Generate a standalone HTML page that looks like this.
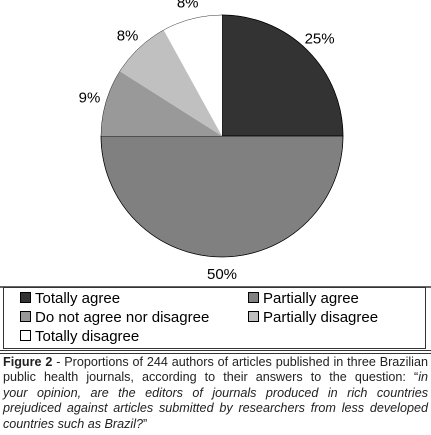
<!DOCTYPE html>
<html><head><meta charset="utf-8"><style>
body{margin:0;background:#fff;width:431px;height:435px;overflow:hidden;position:relative;font-family:"Liberation Sans",sans-serif}
.leg{position:absolute;font-size:15px;color:#000;white-space:nowrap}
.mk{display:inline-block;width:9px;height:9px;border:1px solid #000;margin-right:4px;vertical-align:0px}
.cap{position:absolute;left:3px;top:355px;width:425px;font-size:12.6px;line-height:15.4px;color:#222;font-family:"Liberation Sans",sans-serif}
.cap span{display:block;text-align:justify;text-align-last:justify;white-space:nowrap}
.cap span.last{text-align-last:left}
</style></head><body>
<svg width="431" height="290" style="position:absolute;left:0;top:0">
<g id="pie"></g>
<line x1="0" y1="287" x2="431" y2="287" stroke="#333" stroke-width="1.5"/>
</svg>
<div style="position:absolute;left:3px;top:287px;width:421px;height:60px;border:1px solid #333"></div>
<div class="leg" style="left:20px;top:290px"><span class="mk" style="background:#333"></span>Totally agree</div>
<div class="leg" style="left:248px;top:290px"><span class="mk" style="background:#808080"></span>Partially agree</div>
<div class="leg" style="left:20px;top:309px"><span class="mk" style="background:#999"></span>Do not agree nor disagree</div>
<div class="leg" style="left:248px;top:309px"><span class="mk" style="background:#c0c0c0"></span>Partially disagree</div>
<div class="leg" style="left:20px;top:328px"><span class="mk" style="background:#fff"></span>Totally disagree</div>
<div style="position:absolute;left:0;top:350px;width:431px;height:1px;background:#333"></div>
<div style="position:absolute;left:0;top:353px;width:431px;height:1px;background:#333"></div>
<div class="cap"><span><b>Figure 2</b> - Proportions of 244 authors of articles published in three Brazilian</span><span>public health journals, according to their answers to the question: “<i>in</i></span><span><i>your opinion, are the editors of journals produced in rich countries</i></span><span><i>prejudiced against articles submitted by researchers from less developed</i></span><span class="last"><i>countries such as Brazil?</i>”</span></div>
<script>
const categories=["Totally agree","Partially agree","Do not agree nor disagree","Partially disagree","Totally disagree"];
const values=[25,50,9,8,8];
const labels=["25%","50%","9%","8%","8%"];
const colors=["#333333","#808080","#999999","#c0c0c0","#ffffff"];
const cx=222,cy=136,r=121,ns="http://www.w3.org/2000/svg";
const g=document.getElementById('pie');
const total=values.reduce((a,b)=>a+b,0);
let a0=0;
values.forEach((v,i)=>{
  const a1=a0+v/total*Math.PI*2;
  const p=(a)=>[cx+r*Math.sin(a),cy-r*Math.cos(a)];
  const [x0,y0]=p(a0),[x1,y1]=p(a1);
  const path=document.createElementNS(ns,'path');
  path.setAttribute('d',`M${cx},${cy}L${x0},${y0}A${r},${r} 0 ${a1-a0>Math.PI?1:0} 1 ${x1},${y1}Z`);
  path.setAttribute('fill',colors[i]);
  path.setAttribute('stroke',i==0||i==1?'#000':'none');
  path.setAttribute('stroke-width','0.7');
  
  
  g.appendChild(path);
  const am=(a0+a1)/2, lr=138;
  const t=document.createElementNS(ns,'text');
  t.setAttribute('x',cx+lr*Math.sin(am));
  t.setAttribute('y',cy-lr*Math.cos(am)+5);
  t.setAttribute('text-anchor','middle');
  t.setAttribute('font-size','15');
  t.setAttribute('font-family','Liberation Sans, sans-serif');
  t.textContent=labels[i];
  
  
  g.appendChild(t);
  a0=a1;
});
const o=document.createElementNS(ns,'circle');
o.setAttribute('cx',cx);o.setAttribute('cy',cy);o.setAttribute('r',r);
o.setAttribute('fill','none');o.setAttribute('stroke','#000');o.setAttribute('stroke-width','0.4');
g.appendChild(o);
</script>
</body></html>
